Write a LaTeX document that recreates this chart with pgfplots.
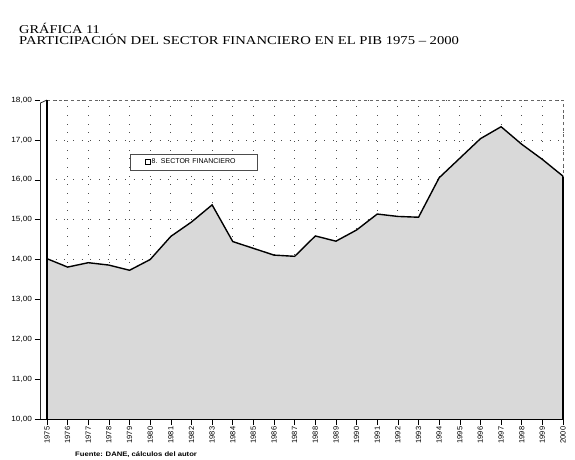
\documentclass[border=0pt]{standalone}
\usepackage{pgfplots}
\pgfplotsset{compat=1.18}
\usepackage{fontspec}
\setmainfont{Liberation Serif}
\newfontfamily\arial{Liberation Sans}
\pgfplotstableread{
year val
1975 14.02
1976 13.81
1977 13.92
1978 13.86
1979 13.73
1980 14.00
1981 14.58
1982 14.94
1983 15.37
1984 14.45
1985 14.28
1986 14.11
1987 14.08
1988 14.59
1989 14.46
1990 14.74
1991 15.14
1992 15.08
1993 15.06
1994 16.05
1995 16.54
1996 17.03
1997 17.33
1998 16.89
1999 16.51
2000 16.09
}\datatable
\begin{document}
\begin{tikzpicture}
\path (0,0) rectangle (575bp,460bp);
\node[anchor=base west, inner sep=0pt, font=\fontsize{12bp}{13bp}\selectfont] at (19bp,426bp) {\scalebox{1.2}[1]{GRÁFICA 11}};
\node[anchor=base west, inner sep=0pt, font=\fontsize{12bp}{13bp}\selectfont] at (19bp,415bp) {\scalebox{1.22}[1]{PARTICIPACIÓN DEL SECTOR FINANCIERO EN EL PIB 1975 – 2000}};
\node[anchor=base west, inner sep=0pt, font=\arial\bfseries\fontsize{6.5bp}{7bp}\selectfont] at (75bp,3.5bp) {\scalebox{1.18}[1]{Fuente: DANE, cálculos del autor}};
\begin{axis}[
  at={(47bp,41bp)}, anchor=south west,
  scale only axis, width=516bp, height=319bp,
  xmin=1975, xmax=2000, ymin=10, ymax=18,
  clip=false,
  xtick={1975,...,2000},
  xticklabels={1975,1976,1977,1978,1979,1980,1981,1982,1983,1984,1985,1986,1987,1988,1989,1990,1991,1992,1993,1994,1995,1996,1997,1998,1999,2000},
  ytick={10,11,...,18},
  /pgf/number format/fixed, /pgf/number format/fixed zerofill,
  /pgf/number format/precision=2, /pgf/number format/use comma,
  /pgf/number format/assume math mode=true,
  ticklabel style={font=\arial\fontsize{7.5bp}{8bp}\selectfont},
  xticklabel style={rotate=90, anchor=east, inner sep=1.5bp},
  yticklabel style={inner sep=1bp, xscale=1.1, xshift=-7bp},
  tick align=outside, xtick pos=left, ytick pos=left,
  major tick length=6bp,
  xtick style={black, line width=0.5pt},
  ytick style={black, line width=0.5pt, xshift=-6.5bp},
  axis line style={draw=none},
  grid=major,
  grid style={black!70, line width=0.7pt, dash pattern=on 0.7pt off 8pt},
  legend style={at={(0.161,0.83)}, anchor=north west, draw=black!70, line width=0.6pt,
    font=\arial\fontsize{7bp}{8bp}\selectfont, inner xsep=2bp, inner ysep=2.5bp,
    nodes={text width=103bp, align=left, inner xsep=1bp}},
  legend image code/.code={\path[draw=none] (0bp,0bp) -- (18bp,0bp); \draw[black, fill=white, line width=0.5pt] (13bp,-2.5bp) rectangle (18bp,2.5bp);},
]
\addplot[draw=none, fill=black!15, forget plot] table[x=year, y=val] {\datatable} \closedcycle;
\addplot[black, line width=1.4pt] table[x=year, y=val] {\datatable};
\addlegendentry{8. SECTOR FINANCIERO}
\addplot[black, line width=2.2pt, forget plot] coordinates {(2000,10) (2000,16.09)};
\draw[black!60, dashed, line width=0.5pt] (rel axis cs:0,1) -- (rel axis cs:1,1) -- (rel axis cs:1,0.76);
\draw[black, line width=0.8pt] ([xshift=-6.5bp]rel axis cs:0,0) -- (rel axis cs:1,0);
\draw[black!85, line width=0.8pt] ([xshift=-6.5bp]rel axis cs:0,0) -- ([xshift=-6.5bp,yshift=-3bp]rel axis cs:0,1) -- (rel axis cs:0,1);
\draw[black, line width=1.2pt] (rel axis cs:0,0) -- (rel axis cs:0,1);
\end{axis}
\end{tikzpicture}
\end{document}
